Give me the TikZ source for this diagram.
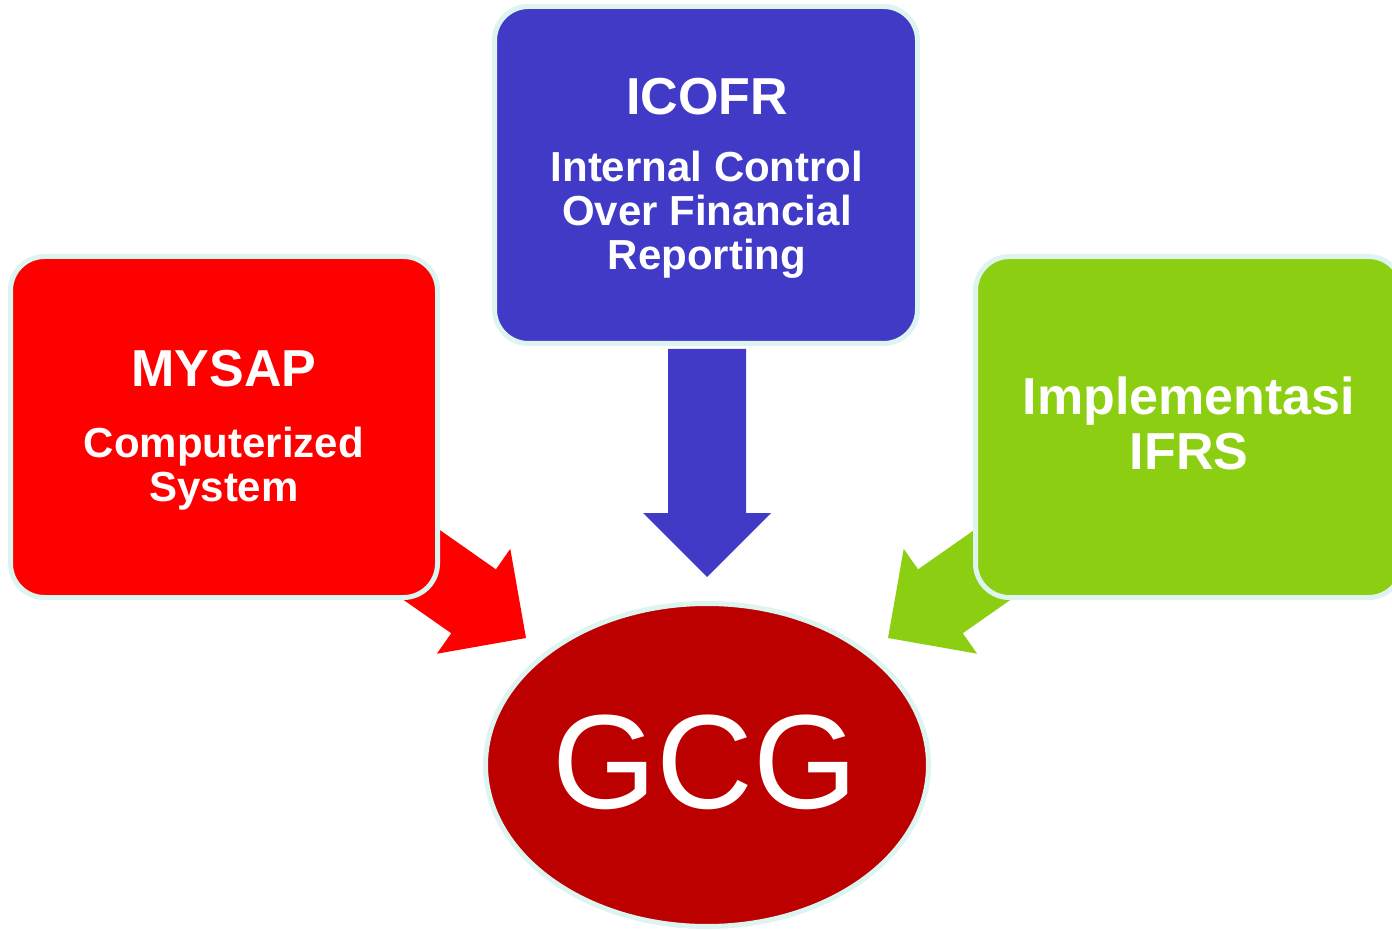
\documentclass[tikz,border=0pt]{standalone}
\usepackage{fontspec}
\setmainfont{Liberation Sans}
\usetikzlibrary{shapes.geometric}

\definecolor{mysapred}{HTML}{FF0000}
\definecolor{icofrblue}{HTML}{403AC6}
\definecolor{ifrsgreen}{HTML}{8CCF12}
\definecolor{gcgred}{HTML}{BC0000}
\definecolor{rim}{HTML}{DDF4F1}

\tikzset{
  box/.style={
    rectangle,
    draw=rim,
    line width=2.5pt,
    rounded corners=17pt,
    minimum width=213.5pt,
    minimum height=170.5pt,
    inner sep=0pt,
  },
  title/.style={
    text=white,
    font=\bfseries\fontsize{26}{30}\selectfont,
    anchor=base,
    inner sep=0pt,
  },
  subtitle/.style={
    title,
    font=\bfseries\fontsize{21}{25}\selectfont,
  },
  blockarrow/.pic={
    \fill (0,0) -- (64,-64) -- (39,-64) -- (39,-228)
      -- (-39,-228) -- (-39,-64) -- (-64,-64) -- cycle;
  },
}

\begin{document}
\begin{tikzpicture}[x=0.5pt, y=-0.5pt]

      \useasboundingbox (0,0) rectangle (1392,930);

      % arrows go first, the boxes cover their tails
      \pic[icofrblue] at (707,577) {blockarrow};
      \pic[mysapred, rotate=55] at (526,638) {blockarrow};
      \pic[ifrsgreen, rotate=-55] at (888,638) {blockarrow};

      \node[box, fill=mysapred](mysap) at (224,427) {};
      \node[box, fill=icofrblue, minimum width=211.5pt, minimum height=168.5pt](icofr) at (706,175) {};
      \node[box, fill=ifrsgreen](ifrs) at (1189,427) {};
      \node[ellipse, draw=rim, line width=2.5pt, fill=gcgred, inner sep=0pt,
        minimum width=221.5pt, minimum height=161.5pt](gcg) at (707,765) {};

      \node[title](icofr title) at (707,115) {ICOFR};
      \foreach \t [count=\i] in {Internal Control, Over Financial, Reporting} {
          \node[subtitle](icofr \i) at (707,{138+44*\i}) {\t};
      };

      \node[title](mysap title) at (224,387) {MYSAP};
      \foreach \t [count=\i] in {Computerized, System} {
          \node[subtitle](mysap \i) at (224,{414+44*\i}) {\t};
      };

      \foreach \t [count=\i] in {Implementasi, IFRS} {
          \node[title](ifrs \i) at (1189,{360+55*\i}) {\t};
      };

      \node[text=white, font=\fontsize{67}{80}\selectfont, anchor=base, inner sep=0pt](gcg text) at (705,808) {GCG};

    \end{tikzpicture}
\end{document}
